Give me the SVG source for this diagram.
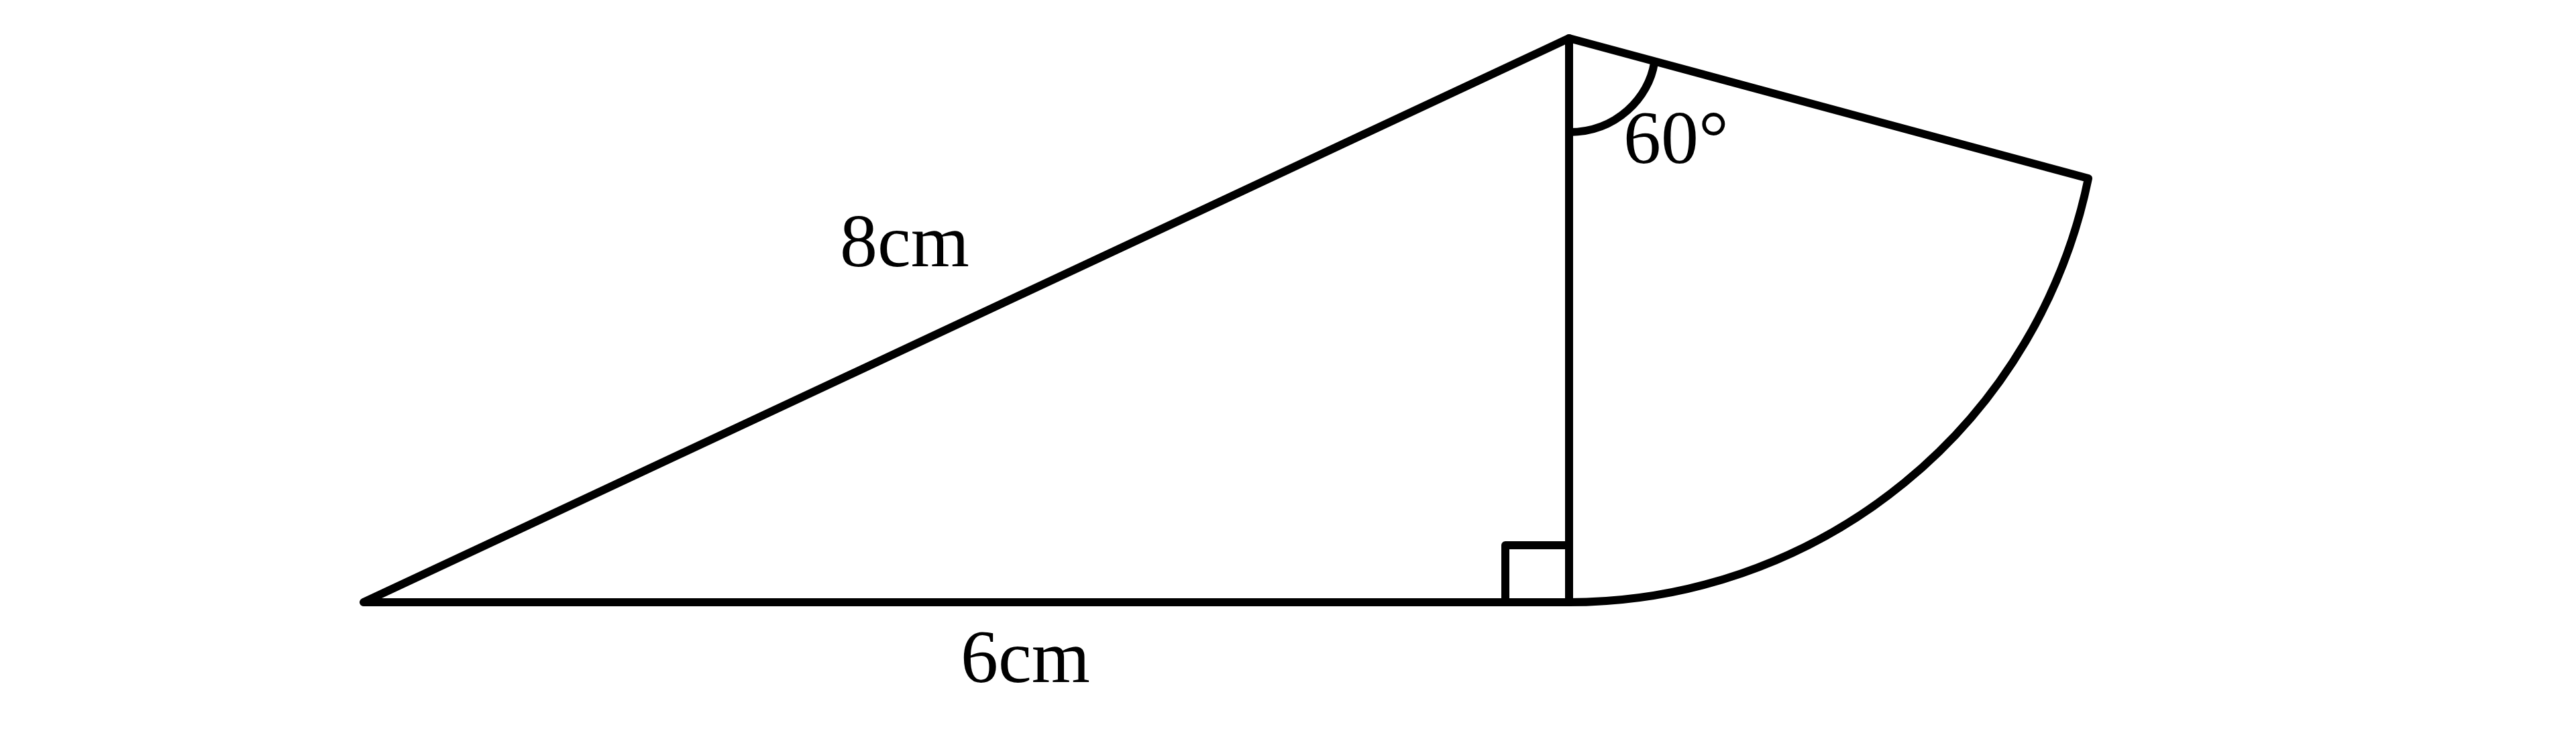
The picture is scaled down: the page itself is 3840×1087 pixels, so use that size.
<svg xmlns="http://www.w3.org/2000/svg" width="3840" height="1087" viewBox="0 0 3840 1087">
<style>
.ln{fill:none;stroke:#000;stroke-width:12;stroke-linejoin:round;stroke-linecap:round}
.lb{font-family:"Liberation Serif","DejaVu Serif",serif;font-size:112px;fill:#000}
</style>
<rect width="3840" height="1087" fill="#fff"/>
<g id="triangle">
<path class="ln" d="M542,898 L2339,898 L2339,57 Z"/>
</g>
<g id="sector">
<path class="ln" d="M2339,57 L3113,266 A790,790 0 0 1 2339,898"/>
</g>
<g id="marks">
<path class="ln" d="M2244,898 L2244,813 L2339,813"/>
<path class="ln" d="M2339,197 C2410,197 2458,145 2466,94"/>
</g>
<g id="labels">
<text class="lb" x="1252" y="397">8cm</text>
<text class="lb" x="1432" y="1017">6cm</text>
<text class="lb" x="2420" y="243">60°</text>
</g>
</svg>
